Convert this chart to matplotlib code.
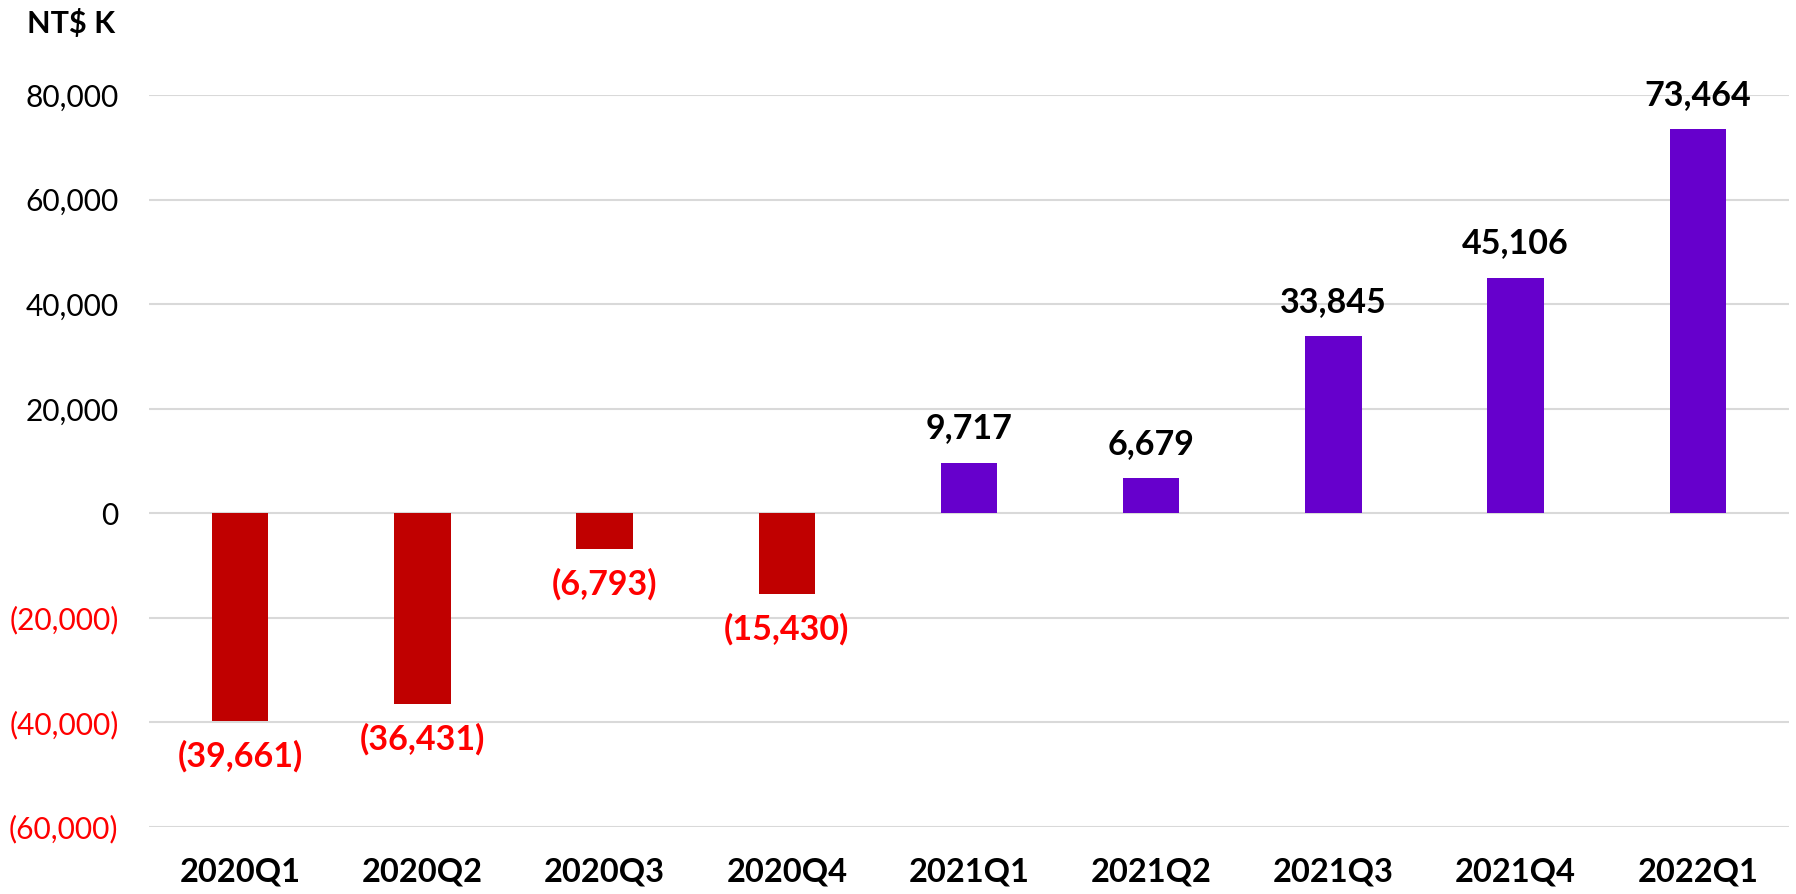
import matplotlib
matplotlib.use("Agg")
import matplotlib.pyplot as plt
from matplotlib.ticker import FuncFormatter

categories = ["2020Q1", "2020Q2", "2020Q3", "2020Q4", "2021Q1", "2021Q2", "2021Q3", "2021Q4", "2022Q1"]
values = [-39661, -36431, -6793, -15430, 9717, 6679, 33845, 45106, 73464]
yticks = [-60000, -40000, -20000, 0, 20000, 40000, 60000, 80000]

plt.rcParams['font.family'] = ['Lato', 'DejaVu Sans']

NEG_BAR = "#C00000"
POS_BAR = "#6600CC"
NEG_TXT = "#FF0000"

fig = plt.figure(figsize=(17.96, 8.94), dpi=100)
ax = fig.add_axes([0.083, 0.075, 0.9131, 0.8185])

x = list(range(len(categories)))
colors = [NEG_BAR if v < 0 else POS_BAR for v in values]
ax.bar(x, values, width=0.31, color=colors, zorder=3)

ax.set_xlim(-0.5, len(categories) - 0.5)
ax.set_ylim(-60000, 80000)
ax.set_yticks(yticks)
ax.yaxis.grid(True, color="#D9D9D9", linewidth=1.5, zorder=0)
ax.set_axisbelow(True)

def fmt(v, pos=None):
    if v < 0:
        return "({:,.0f})".format(-v)
    return "{:,.0f}".format(v)

ax.yaxis.set_major_formatter(FuncFormatter(fmt))
ax.tick_params(axis='y', length=0, pad=22, labelsize=21.5)
ax.tick_params(axis='x', length=0, pad=22, labelsize=23.5)
ax.set_xticks(x)
ax.set_xticklabels(categories, fontweight='bold')
for lbl, t in zip(ax.get_yticklabels(), yticks):
    lbl.set_color(NEG_TXT if t < 0 else "black")

for s in ax.spines.values():
    s.set_visible(False)

for xi, v in zip(x, values):
    if v < 0:
        ax.annotate(fmt(v), (xi, v), xytext=(0, -14), textcoords='offset points',
                    ha='center', va='top', fontsize=24.5, fontweight='bold', color=NEG_TXT)
    else:
        ax.annotate(fmt(v), (xi, v), xytext=(0, 13), textcoords='offset points',
                    ha='center', va='bottom', fontsize=24.5, fontweight='bold', color='black')

fig.text(27 / 1796, 1 - 33 / 894, "NT$ K", ha='left', va='baseline', fontsize=22, fontweight='bold')

fig.savefig("out.png", dpi=100)
